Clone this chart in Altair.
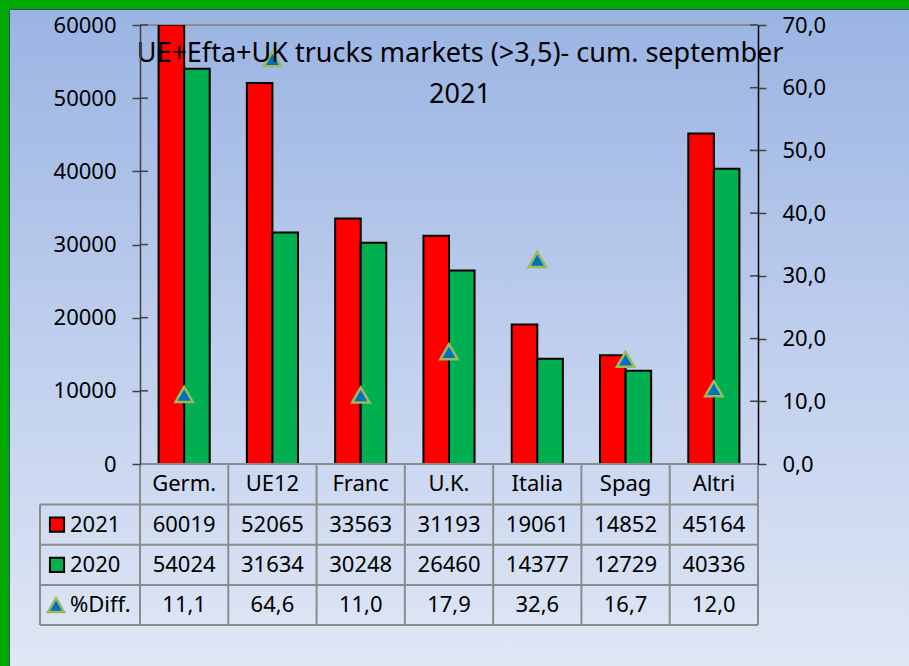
import altair as alt
import pandas as pd

# ---- data ----
categories = ["Germ.", "UE12", "Franc", "U.K.", "Italia", "Spag", "Altri"]
v2021 = [60019, 52065, 33563, 31193, 19061, 14852, 45164]
v2020 = [54024, 31634, 30248, 26460, 14377, 12729, 40336]
pct_diff = [11.1, 64.6, 11.0, 17.9, 32.6, 16.7, 12.0]
series_names = ["2021", "2020"]
left_ticks = [0, 10000, 20000, 30000, 40000, 50000, 60000]
right_ticks = [0, 10, 20, 30, 40, 50, 60, 70]
title_lines = ["UE+Efta+UK trucks markets (>3,5)- cum. september", "2021"]

W, H = 618, 439
FONT = "Noto Sans"

bars_df = pd.DataFrame(
    [{"cat": c, "series": "2021", "value": v} for c, v in zip(categories, v2021)]
    + [{"cat": c, "series": "2020", "value": v} for c, v in zip(categories, v2020)]
)
cat_df = pd.DataFrame({
    "cat": categories,
    "v2021": [str(v) for v in v2021],
    "v2020": [str(v) for v in v2020],
    "pct": pct_diff,
    "pct_txt": [f"{p:.1f}".replace(".", ",") for p in pct_diff],
})
one = alt.Data(values=[{"k": 1}])

xenc = alt.X("cat:N", sort=categories, scale=alt.Scale(paddingInner=0, paddingOuter=0), axis=None)

# background gradient
bg = alt.Chart(one).mark_rect(
    fill=alt.LinearGradient(
        gradient="linear",
        stops=[alt.GradientStop(color="#99B3E2", offset=0),
               alt.GradientStop(color="#BACBEC", offset=0.45),
               alt.GradientStop(color="#E0E7F5", offset=1)],
        x1=0, x2=0, y1=0, y2=1),
).encode(x=alt.value(-140), x2=alt.value(769), y=alt.value(-25), y2=alt.value(641))

green_left = alt.Chart(one).mark_rect(fill="#00A800").encode(
    x=alt.value(-140), x2=alt.value(-131), y=alt.value(-25), y2=alt.value(641))
green_top = alt.Chart(one).mark_rect(fill="#00A800").encode(
    x=alt.value(-140), x2=alt.value(769), y=alt.value(-25), y2=alt.value(-16))
dark_left = alt.Chart(one).mark_rule(color="#2E4A6E", strokeWidth=1).encode(
    x=alt.value(-130.5), y=alt.value(-16), y2=alt.value(641))
dark_top = alt.Chart(one).mark_rule(color="#2E4A6E", strokeWidth=1).encode(
    x=alt.value(-131), x2=alt.value(769), y=alt.value(-15.5))

top_line = alt.Chart(one).mark_rule(color="#8C8C8C", strokeWidth=2).encode(
    x=alt.value(0), x2=alt.value(W), y=alt.value(0))

bars = alt.Chart(bars_df).mark_bar(stroke="black", strokeWidth=2, clip=True).encode(
    x=xenc,
    xOffset=alt.XOffset("series:N", sort=series_names,
                        scale=alt.Scale(paddingInner=0, paddingOuter=0.727)),
    y=alt.Y("value:Q", scale=alt.Scale(domain=[0, 60000]), title=None,
            axis=alt.Axis(values=left_ticks, format="d", grid=False, zindex=1,
                          labelFont=FONT, labelFontSize=22, labelColor="black",
                          labelPadding=16, tickSize=8, tickColor="#404040",
                          domainColor="#404040", domainWidth=1.5, tickWidth=1.5)),
    color=alt.Color("series:N", scale=alt.Scale(domain=series_names, range=["#FF0000", "#00B050"]),
                    legend=None),
)

left_in = alt.Chart(pd.DataFrame({"t": left_ticks})).mark_rule(color="#404040", strokeWidth=1.5).encode(
    y=alt.Y("t:Q", scale=alt.Scale(domain=[0, 60000]), axis=None),
    x=alt.value(0), x2=alt.value(8))

tri = alt.Chart(cat_df).mark_point(shape="triangle-up", filled=True, fill="#0070C0",
                                   stroke="#9BBB59", strokeWidth=2.5, size=300, opacity=1).encode(
    x=xenc,
    y=alt.Y("pct:Q", scale=alt.Scale(domain=[0, 70]), title=None,
            axis=alt.Axis(orient="right", values=right_ticks, grid=False, zindex=1,
                          labelExpr="replace(format(datum.value, '.1f'), '.', ',')",
                          labelFont=FONT, labelFontSize=22, labelColor="black",
                          labelPadding=16, tickSize=8, tickColor="#404040",
                          domainColor="black", domainWidth=1.5, tickWidth=1.5)),
)

right_in = alt.Chart(pd.DataFrame({"t": right_ticks})).mark_rule(color="#404040", strokeWidth=1.5).encode(
    y=alt.Y("t:Q", scale=alt.Scale(domain=[0, 70]), axis=None),
    x=alt.value(W - 8), x2=alt.value(W))

title = alt.Chart(one).mark_text(font=FONT, fontSize=27, color="black", align="center",
                                 baseline="alphabetic", lineHeight=41).encode(
    x=alt.value(320), y=alt.value(37), text=alt.value(title_lines))

# ---- data table ----
GRID = "#8C8C8C"
row_tops = [H, 479.5, 519.75, 560, 600]
table = []
# vertical lines at category boundaries
table.append(alt.Chart(cat_df).mark_rule(color=GRID, strokeWidth=2).encode(
    x=alt.X("cat:N", sort=categories, bandPosition=0, scale=alt.Scale(paddingInner=0, paddingOuter=0), axis=None),
    y=alt.value(H), y2=alt.value(600)))
table.append(alt.Chart(one).mark_rule(color=GRID, strokeWidth=2).encode(
    x=alt.value(W), y=alt.value(H), y2=alt.value(600)))
table.append(alt.Chart(one).mark_rule(color=GRID, strokeWidth=2).encode(
    x=alt.value(-100), y=alt.value(479.5), y2=alt.value(600)))
# horizontal lines
table.append(alt.Chart(one).mark_rule(color=GRID, strokeWidth=2).encode(
    x=alt.value(0), x2=alt.value(W), y=alt.value(H)))
for yy in row_tops[1:]:
    table.append(alt.Chart(one).mark_rule(color=GRID, strokeWidth=2).encode(
        x=alt.value(-100), x2=alt.value(W), y=alt.value(yy)))

row_centers = [(row_tops[i] + row_tops[i + 1]) / 2 for i in range(4)]
for field, yc in zip(["cat", "v2021", "v2020", "pct_txt"], row_centers):
    table.append(alt.Chart(cat_df).mark_text(font=FONT, fontSize=22, color="black",
                                             align="center", baseline="middle").encode(
        x=xenc, y=alt.value(yc), text=alt.Text(f"{field}:N")))

row_labels = ["2021", "2020", "%Diff."]
for lab, yc in zip(row_labels, row_centers[1:]):
    table.append(alt.Chart(one).mark_text(font=FONT, fontSize=22, color="black",
                                          align="left", baseline="middle").encode(
        x=alt.value(-70), y=alt.value(yc), text=alt.value(lab)))

table.append(alt.Chart(one).mark_square(fill="#FF0000", stroke="black", strokeWidth=2,
                                        size=200, opacity=1).encode(
    x=alt.value(-83), y=alt.value(row_centers[1])))
table.append(alt.Chart(one).mark_square(fill="#00B050", stroke="black", strokeWidth=2,
                                        size=200, opacity=1).encode(
    x=alt.value(-83), y=alt.value(row_centers[2])))
table.append(alt.Chart(one).mark_point(shape="triangle-up", filled=True, fill="#0070C0",
                                       stroke="#9BBB59", strokeWidth=2.5, size=260, opacity=1).encode(
    x=alt.value(-84), y=alt.value(row_centers[3])))

chart = alt.layer(
    bg, green_left, green_top, dark_left, dark_top, top_line,
    bars, left_in, tri, right_in, title, *table
).resolve_scale(y="independent").properties(
    width=W, height=H,
    autosize=alt.AutoSizeParams(type="none"),
    padding={"left": 140, "top": 25, "right": 151, "bottom": 202},
    background="#DDE4F3",
).configure_view(strokeWidth=0)

chart.save("out.html", embed_options={"renderer": "svg", "actions": False})
